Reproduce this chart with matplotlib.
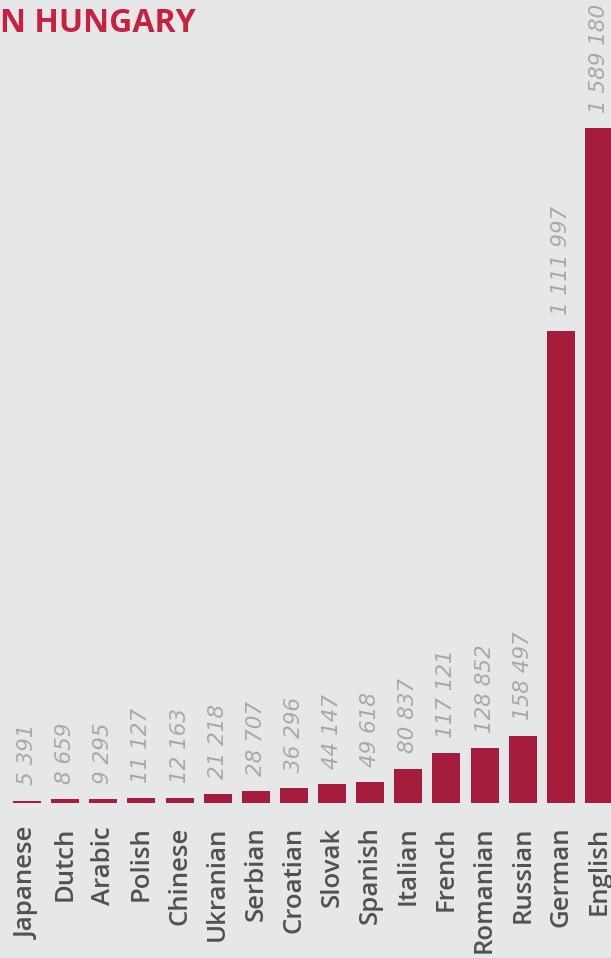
import matplotlib
matplotlib.use("Agg")
import matplotlib.pyplot as plt

# Data
languages = ["Japanese", "Dutch", "Arabic", "Polish", "Chinese", "Ukranian",
             "Serbian", "Croatian", "Slovak", "Spanish", "Italian", "French",
             "Romanian", "Russian", "German", "English"]
speakers = [5391, 8659, 9295, 11127, 12163, 21218, 28707, 36296, 44147,
            49618, 80837, 117121, 128852, 158497, 1111997, 1589180]

bg = "#e6e7e8"
bar_color = "#a51c3c"
title_color = "#c8203f"

# Set up figure
fig = plt.figure(figsize=(6.11, 9.58), dpi=100, facecolor=bg)
ax = fig.add_axes([0, 155 / 958, 1, 803 / 958])
ax.set_facecolor(bg)

x = list(range(len(languages)))
ax.bar(x, speakers, width=0.734, color=bar_color)

# Value labels above bars
for xi, v in zip(x, speakers):
    label = f"{v:,}".replace(",", " ")
    ax.annotate(label, (xi, v), xytext=(0, 11), textcoords="offset points",
                rotation=90, ha="center", va="bottom", fontsize=15.5,
                family="DejaVu Sans", style="oblique", color="#a6a8aa")

# Axes limits (English bar is clipped at right edge like the original)
ax.set_xlim(-27 / 38.13, (611 - 27) / 38.13)
ax.set_ylim(0, 803 * 1589180 / 675)

ax.set_xticks(x)
ax.set_xticklabels(languages, rotation=90, va="top", ha="center",
                   fontsize=18.5, family="Open Sans", weight="semibold",
                   color="#505153")
ax.tick_params(axis="x", length=0, pad=17)
ax.set_yticks([])
for s in ax.spines.values():
    s.set_visible(False)

# Title (the start of it is off the left edge in the original)
fig.text(0.5 / 611, 1 - 24 / 958, "N HUNGARY", ha="left", va="center",
         fontsize=23, weight="bold", family="Open Sans", color=title_color)

fig.savefig("out.png", dpi=100, facecolor=bg)
